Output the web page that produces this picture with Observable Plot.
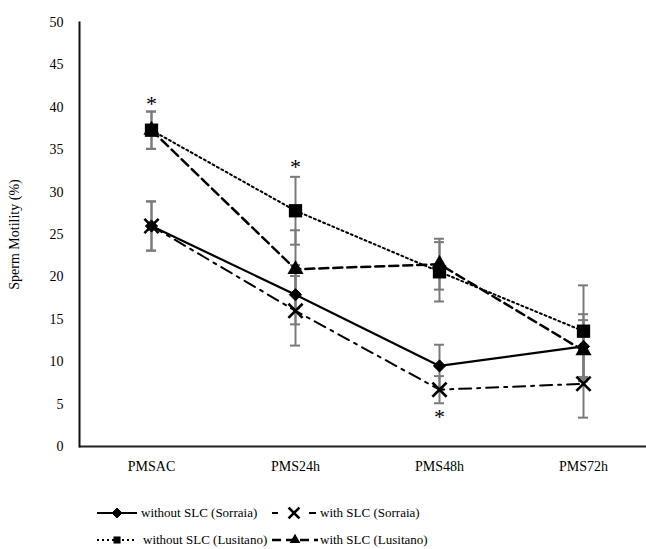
<!DOCTYPE html>
<html>
<head>
<meta charset="utf-8">
<script src="https://cdn.jsdelivr.net/npm/d3@7"></script>
<script src="https://cdn.jsdelivr.net/npm/@observablehq/plot@0.6"></script>
<style>
  html, body { margin: 0; padding: 0; background: #fff; }
  #legend { position: relative; width: 646px; height: 59px; font-family: "Liberation Serif", "DejaVu Serif", serif; font-size: 13px; color: #000; }
  #legend .item { position: absolute; white-space: nowrap; line-height: 16px; }
  #legend svg { position: absolute; }
</style>
</head>
<body>
<div id="chart"></div>
<div id="legend"></div>
<script>
// ---- data ----
const categories = ["PMSAC", "PMS24h", "PMS48h", "PMS72h"];
const seriesNames = ["without SLC (Sorraia)", "with SLC (Sorraia)", "without SLC (Lusitano)", "with SLC (Lusitano)"];
const sorraiaWithout = [26.0, 17.9, 9.5, 11.8];
const sorraiaWithoutErr = [2.9, 3.5, 2.5, 3.8];
const sorraiaWith = [26.0, 16.0, 6.7, 7.4];
const sorraiaWithErr = [2.9, 4.1, 1.6, 4.0];
const lusitanoWithout = [37.3, 27.8, 20.6, 13.6];
const lusitanoWithoutErr = [2.2, 4.0, 3.5, 5.4];
const lusitanoWith = [37.3, 20.9, 21.5, 11.3];
const lusitanoWithErr = [2.2, 4.6, 3.0, 3.6];
const starCategories = ["PMSAC", "PMS24h", "PMS48h"];
const starValues = [40.4, 33.0, 3.5];
const yTicks = [0, 5, 10, 15, 20, 25, 30, 35, 40, 45, 50];

// ---- styles per series ----
const styles = [
  {symbol: "diamond2", fill: "black", stroke: "black", r: 5.5, sw: 2.2, dash: null},
  {symbol: "times", fill: "none", stroke: "black", r: 6.5, sw: 2, dash: "12,6,3,6", symSw: 2.6},
  {symbol: "square", fill: "black", stroke: "none", r: 7.5, sw: 2, dash: "2,3"},
  {symbol: "triangle", fill: "black", stroke: "none", r: 6, sw: 2.5, dash: "9,5"}
];

const valueLists = [sorraiaWithout, sorraiaWith, lusitanoWithout, lusitanoWith];
const errLists = [sorraiaWithoutErr, sorraiaWithErr, lusitanoWithoutErr, lusitanoWithErr];
const rows = [];
seriesNames.forEach((s, k) => categories.forEach((c, i) => rows.push({series: s, k, cat: c, v: valueLists[k][i], e: errLists[k][i]})));
const stars = starCategories.map((c, i) => ({cat: c, v: starValues[i]}));

const serif = "'Liberation Serif', 'DejaVu Serif', serif";
const marks = [];
marks.push(Plot.ruleX(rows, {x: "cat", y1: d => d.v - d.e, y2: d => d.v + d.e, stroke: "#7a7a7a", strokeWidth: 2}));
marks.push(Plot.tickY(rows, {x: "cat", y: d => d.v + d.e, stroke: "#7a7a7a", strokeWidth: 2, insetLeft: 67, insetRight: 67}));
marks.push(Plot.tickY(rows, {x: "cat", y: d => d.v - d.e, stroke: "#7a7a7a", strokeWidth: 2, insetLeft: 67, insetRight: 67}));
seriesNames.forEach((s, k) => {
  const st = styles[k];
  marks.push(Plot.line(rows.filter(d => d.k === k), {x: "cat", y: "v", stroke: "black", strokeWidth: st.sw, strokeDasharray: st.dash ?? undefined}));
});
seriesNames.forEach((s, k) => {
  const st = styles[k];
  marks.push(Plot.dot(rows.filter(d => d.k === k), {x: "cat", y: "v", symbol: st.symbol, r: st.r, fill: st.fill, stroke: st.stroke, strokeWidth: st.symSw ?? 1}));
});
marks.push(Plot.text(stars, {x: "cat", y: "v", text: () => "*", fontSize: 22, fill: "black"}));
marks.push(Plot.ruleY([0], {stroke: "#222", strokeWidth: 2}));
marks.push(Plot.frame({anchor: "left", stroke: "#111", strokeWidth: 2}));
marks.push(Plot.axisX({tickSize: 0, tickPadding: 15, label: null}));
marks.push(Plot.axisY({ticks: yTicks, tickSize: 0, tickPadding: 16, label: "Sperm Motility (%)", labelAnchor: "center", labelArrow: "none", labelOffset: 70}));

const chart = Plot.plot({
  width: 646,
  height: 490,
  marginLeft: 79,
  marginRight: 0,
  marginTop: 22,
  marginBottom: 44,
  style: {fontFamily: serif, fontSize: "14px", color: "black", background: "white"},
  x: {type: "band", domain: categories, range: [79, 655], padding: 0},
  y: {domain: [0, 50], range: [446, 22]},
  marks
});
document.getElementById("chart").appendChild(chart);

// ---- legend ----
const legendPos = [
  {svgLeft: 97, svgW: 40, textLeft: 141, top: 15},
  {svgLeft: 272, svgW: 44, textLeft: 320, top: 15},
  {svgLeft: 97, svgW: 40, textLeft: 143, top: 42},
  {svgLeft: 272, svgW: 46, textLeft: 320, top: 42}
];
const legend = document.getElementById("legend");
const symMap = {diamond2: d3.symbolDiamond2, times: d3.symbolTimes, square: d3.symbolSquare, triangle: d3.symbolTriangle};
seriesNames.forEach((name, k) => {
  const st = styles[k], p = legendPos[k];
  const svg = d3.create("svg").attr("width", p.svgW).attr("height", 16)
    .style("left", p.svgLeft + "px").style("top", p.top + "px");
  svg.append("line").attr("x1", 0).attr("x2", p.svgW).attr("y1", 8).attr("y2", 8)
    .attr("stroke", "black").attr("stroke-width", st.sw)
    .attr("stroke-dasharray", k === 1 ? "6,32" : (st.dash || null));
  if (k === 1) {
    svg.append("line").attr("x1", p.svgW - 7).attr("x2", p.svgW).attr("y1", 8).attr("y2", 8).attr("stroke", "black").attr("stroke-width", st.sw);
  }
  const size = Math.PI * Math.pow(k === 0 ? 4.5 : k === 1 ? 5 : 4, 2);
  svg.append("path").attr("d", d3.symbol(symMap[st.symbol], size)())
    .attr("transform", `translate(${p.svgW / 2},8)`)
    .attr("fill", st.fill).attr("stroke", st.stroke).attr("stroke-width", st.symSw ?? 1);
  legend.appendChild(svg.node());
  const span = document.createElement("div");
  span.className = "item";
  span.style.left = p.textLeft + "px";
  span.style.top = p.top + "px";
  span.textContent = name;
  legend.appendChild(span);
});
</script>
</body>
</html>
